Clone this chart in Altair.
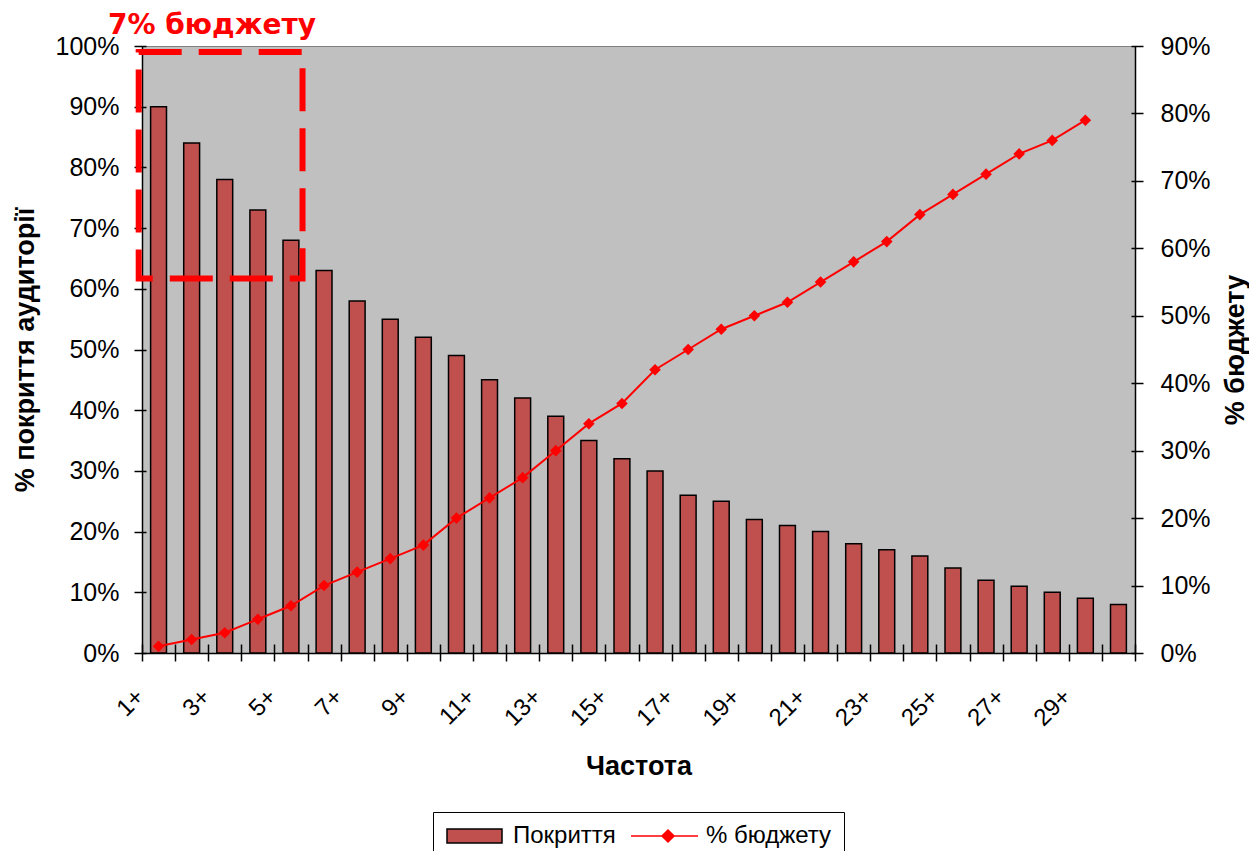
import altair as alt
import pandas as pd

# ---------------- data ----------------
categories = ["1+", "2+", "3+", "4+", "5+", "6+", "7+", "8+", "9+", "10+",
              "11+", "12+", "13+", "14+", "15+", "16+", "17+", "18+", "19+", "20+",
              "21+", "22+", "23+", "24+", "25+", "26+", "27+", "28+", "29+", "30+"]
tick_labels = ["1+", "3+", "5+", "7+", "9+", "11+", "13+", "15+", "17+", "19+",
               "21+", "23+", "25+", "27+", "29+"]
coverage = [90, 84, 78, 73, 68, 63, 58, 55, 52, 49,
            45, 42, 39, 35, 32, 30, 26, 25, 22, 21,
            20, 18, 17, 16, 14, 12, 11, 10, 9, 8]
budget = [1, 2, 3, 5, 7, 10, 12, 14, 16, 20,
          23, 26, 30, 34, 37, 42, 45, 48, 50, 52,
          55, 58, 61, 65, 68, 71, 74, 76, 79]
series_names = ["Покриття", "% бюджету"]
series_fill = ["#C0504D", "#FF0000"]
series_stroke = ["#000000", "#FF0000"]
legend_shapes = ["M-1,-0.7H4.5V0.7H-1Z",
                 "M-1.9,0H4.8M1.8,-0.6L2.4,0L1.8,0.6L1.2,0Z"]
left_ticks = [0, 10, 20, 30, 40, 50, 60, 70, 80, 90, 100]
right_ticks = [0, 10, 20, 30, 40, 50, 60, 70, 80, 90]
category_edges = list(range(31))
# annotation box "7% бюджету": category units (0 = left edge) and left-axis %
box_x = [-0.1, 4.85]
box_y = [99.0, 61.7]
annotation = "7% бюджету"

FONT = "Liberation Sans"
PLOT_BG = "#C0C0C0"

df_bar = pd.DataFrame({"cat": categories, "coverage": coverage})
df_line = pd.DataFrame({"cat": categories[:len(budget)], "budget": budget})
df_box = pd.DataFrame({"x1": [box_x[0]], "x2": [box_x[1]], "y1": [box_y[0]], "y2": [box_y[1]]})
df_legend = pd.DataFrame({"series": series_names})

x_band = alt.Scale(domain=categories, paddingInner=0.52, paddingOuter=0.26)

bars = alt.Chart(df_bar).mark_bar(fill=series_fill[0], stroke="black", strokeWidth=1.5).encode(
    x=alt.X("cat:N", scale=x_band, axis=alt.Axis(
        orient="bottom", values=tick_labels, title="Частота", ticks=False, tickSize=0,
        domain=True, domainColor="black", domainWidth=1.5, grid=False,
        labelAngle=-45, labelAlign="right", labelBaseline="middle", labelOffset=-18,
        labelPadding=40, labelFont=FONT, labelFontSize=24, labelColor="black",
        labelOverlap=False,
        titleFont=FONT, titleFontSize=27, titleFontWeight="bold", titleColor="black",
        titleBaseline="alphabetic", titleX=496.5, titleY=121)),
    y=alt.Y("coverage:Q", scale=alt.Scale(domain=[0, 100], nice=False), axis=alt.Axis(
        orient="left", values=left_ticks, labelExpr="datum.value + '%'", ticks=False,
        tickSize=0, labelPadding=23, domainColor="black", domainWidth=1.5, grid=False,
        labelFont=FONT, labelFontSize=25, labelColor="black",
        title="% покриття аудиторії", titleFont=FONT, titleFontSize=27,
        titleFontWeight="bold", titleColor="black", titleAngle=270,
        titleBaseline="alphabetic", titleX=-109, titleY=303.5)),
)

line = alt.Chart(df_line).mark_line(
    color=series_fill[1], strokeWidth=2,
    point=alt.OverlayMarkDef(shape="diamond", filled=True, size=135, color=series_fill[1]),
).encode(
    x=alt.X("cat:N", scale=x_band, axis=None),
    y=alt.Y("budget:Q", scale=alt.Scale(domain=[0, 90], nice=False), axis=alt.Axis(
        orient="right", values=right_ticks, labelExpr="datum.value + '%'", ticks=False,
        tickSize=0, labelPadding=25, domainColor="black", domainWidth=1.5, grid=False,
        labelFont=FONT, labelFontSize=25, labelColor="black",
        title="% бюджету", titleFont=FONT, titleFontSize=27, titleFontWeight="bold",
        titleColor="black", titleAngle=270, titleBaseline="alphabetic",
        titleX=108, titleY=303.5)),
)

box = alt.Chart(df_box).mark_rect(
    fillOpacity=0, stroke="#FF0000", strokeWidth=6, strokeDash=[43, 17]
).encode(
    x=alt.X("x1:Q", scale=alt.Scale(domain=[0, 30], nice=False, zero=False), axis=alt.Axis(
        orient="bottom", values=category_edges, labels=False, domain=False, ticks=True,
        tickSize=17, tickColor="black", tickWidth=1.5, offset=-9, grid=False, title=None)),
    x2="x2:Q",
    y=alt.Y("y1:Q", scale=alt.Scale(domain=[0, 100], nice=False), axis=alt.Axis(
        orient="left", values=left_ticks, labels=False, domain=False, ticks=True,
        tickSize=12, tickColor="black", tickWidth=1.5, offset=-4, grid=False, title=None)),
    y2="y2:Q",
)

right_ticks_layer = alt.Chart(df_line).mark_point(opacity=0).encode(
    x=alt.X("cat:N", scale=x_band, axis=None),
    y=alt.Y("budget:Q", scale=alt.Scale(domain=[0, 90], nice=False), axis=alt.Axis(
        orient="right", values=right_ticks, labels=False, domain=False, ticks=True,
        tickSize=12, tickColor="black", tickWidth=1.5, offset=-4, grid=False, title=None)),
)

legend = alt.Legend(
    title=None, orient="none", legendX=291, legendY=766, direction="horizontal",
    strokeColor="black", fillColor="white", padding=12, symbolSize=400,
    symbolOpacity=1, symbolStrokeWidth=1.5,
    labelFont=FONT, labelFontSize=24, labelColor="black", labelOffset=44,
    columnPadding=12,
)
legend_layer = alt.Chart(df_legend).mark_point(filled=True, opacity=0, size=400).encode(
    shape=alt.Shape("series:N", scale=alt.Scale(domain=series_names, range=legend_shapes),
                    legend=legend),
    fill=alt.Fill("series:N", scale=alt.Scale(domain=series_names, range=series_fill)),
    stroke=alt.Stroke("series:N", scale=alt.Scale(domain=series_names, range=series_stroke)),
)

chart = alt.layer(bars, line, box, right_ticks_layer, legend_layer).resolve_scale(
    x="independent", y="independent"
).properties(
    width=993, height=607,
    autosize=alt.AutoSizeParams(type="none"),
    padding={"left": 134, "top": 38, "right": 114, "bottom": 198},
    title=alt.TitleParams(annotation, anchor="start", frame="group", dx=-34, offset=0,
                          dy=6, fontSize=28, font="DejaVu Sans", fontWeight="bold",
                          color="#FF0000"),
    background="white",
    view=alt.ViewBackground(fill=PLOT_BG, stroke="#808080", strokeWidth=1),
).configure_view(fill=PLOT_BG, stroke="#808080", strokeWidth=1)

chart.save("out.html", embed_options={"renderer": "svg", "actions": False})
